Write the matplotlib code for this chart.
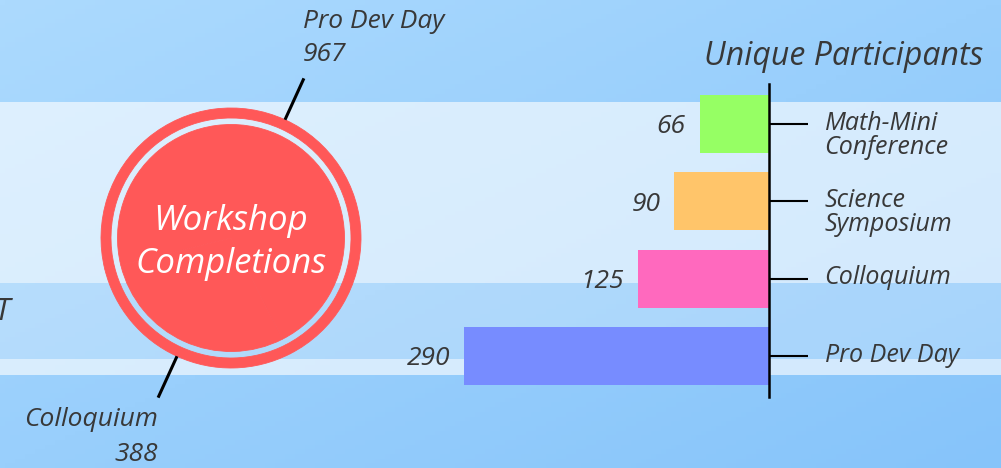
import numpy as np
import matplotlib.pyplot as plt
from matplotlib.colors import to_rgb

W, H = 1001, 468

# workshop completions (ring chart)
pie_labels = ['Pro Dev Day', 'Colloquium']
pie_values = [967, 388]
pie_color = '#ff5858'

# unique participants (bars)
bar_labels = ['Math-Mini\nConference', 'Science\nSymposium', 'Colloquium', 'Pro Dev Day']
bar_values = [66, 90, 125, 290]
bar_colors = ['#96ff64', '#ffc56a', '#ff69be', '#778cff']

plt.rcParams['font.family'] = ['Open Sans', 'DejaVu Sans']
plt.rcParams['font.style'] = 'italic'
ink = '#383838'

fig = plt.figure(figsize=(W / 100, H / 100), dpi=100)

# background gradient + bands
bg = fig.add_axes([0, 0, 1, 1])
xx, yy = np.meshgrid(np.linspace(0, 1, 200), np.linspace(0, 1, 100))
t = (xx + yy) / 2
c0 = np.array(to_rgb('#acdafe'))
c1 = np.array(to_rgb('#86c4fa'))
bg.imshow(c0 + (c1 - c0) * t[..., None], extent=(0, W, H, 0), aspect='auto')
bg.axhspan(102, 283, color='white', alpha=0.62, lw=0)
bg.axhspan(283, 359, color='white', alpha=0.24, lw=0)
bg.axhspan(359, 375, color='white', alpha=0.62, lw=0)
# word cut off at the left edge in the original
bg.text(2, 312, 'T', ha='center', va='center', fontsize=22, color=ink)
bg.set_xlim(0, W)
bg.set_ylim(H, 0)
bg.axis('off')

# ring chart
cx, cy, R = 231, 238, 130
lim = 1.5
side = 2 * R * lim
pa = fig.add_axes([(cx - side / 2) / W, (H - cy - side / 2) / H, side / W, side / H])
start = -63
wedges, _ = pa.pie(pie_values, colors=[pie_color] * 2, radius=1, startangle=start,
                   wedgeprops=dict(width=10 / 130, lw=0.6, edgecolor=pie_color))
pa.pie(pie_values, colors=[pie_color] * 2, radius=113.5 / 130, startangle=start,
       wedgeprops=dict(lw=0.6, edgecolor=pie_color))
for w, lab, val in zip(wedges, pie_labels, pie_values):
    ang = np.deg2rad((w.theta1 + w.theta2) / 2)
    x0, y0 = np.cos(ang), np.sin(ang)
    pa.plot([x0, 1.35 * x0], [y0, 1.35 * y0], color='black', lw=2.2, solid_capstyle='butt')
    if y0 > 0:
        pa.annotate('%s\n%d' % (lab, val), xy=(1.35 * x0, 1.35 * y0), xytext=(-1, 8),
                    textcoords='offset points', ha='left', va='bottom', fontsize=19,
                    color=ink, linespacing=1.45)
    else:
        pa.annotate('%s\n%d' % (lab, val), xy=(1.35 * x0, 1.35 * y0), xytext=(0, -7),
                    textcoords='offset points', ha='right', va='top', fontsize=19, color=ink,
                    multialignment='right', linespacing=1.5)
pa.text(0, -0.035, 'Workshop\nCompletions', ha='center', va='center', color='white',
        fontsize=25, linespacing=1.38)
pa.set_xlim(-lim, lim)
pa.set_ylim(-lim, lim)
pa.axis('off')

# bar chart
L, Rx, T, B = 400, 769, 84, 397
ba = fig.add_axes([L / W, (H - B) / H, (Rx - L) / W, (B - T) / H])
ba.patch.set_alpha(0)
pos = np.arange(len(bar_values))
ba.barh(pos, bar_values, height=0.75, color=bar_colors)
ba.set_xlim((Rx - L) / (305 / 290), 0)
ba.set_ylim(3.53, -0.517)
for s in ['top', 'bottom', 'left']:
    ba.spines[s].set_visible(False)
ba.spines['right'].set_linewidth(1.8)
ba.set_xticks([])
ba.yaxis.tick_right()
ba.set_yticks(pos, [''] * len(pos))
ba.tick_params(axis='y', length=28, width=1.5, color='black')
for i, (lab, val) in enumerate(zip(bar_labels, bar_values)):
    ba.annotate(lab, xy=(1, i), xycoords=('axes fraction', 'data'), xytext=(40, 9.5),
                textcoords='offset points', ha='left', va='top', fontsize=18,
                color=ink, linespacing=0.95)
    ba.annotate(str(val), xy=(val, i), xytext=(-10, -2), textcoords='offset points',
                ha='right', va='center', fontsize=19, color=ink)
fig.text(983 / W, (H - 65) / H, 'Unique Participants', ha='right', va='baseline',
         fontsize=23, color=ink)

fig.savefig('out.png', dpi=100)
